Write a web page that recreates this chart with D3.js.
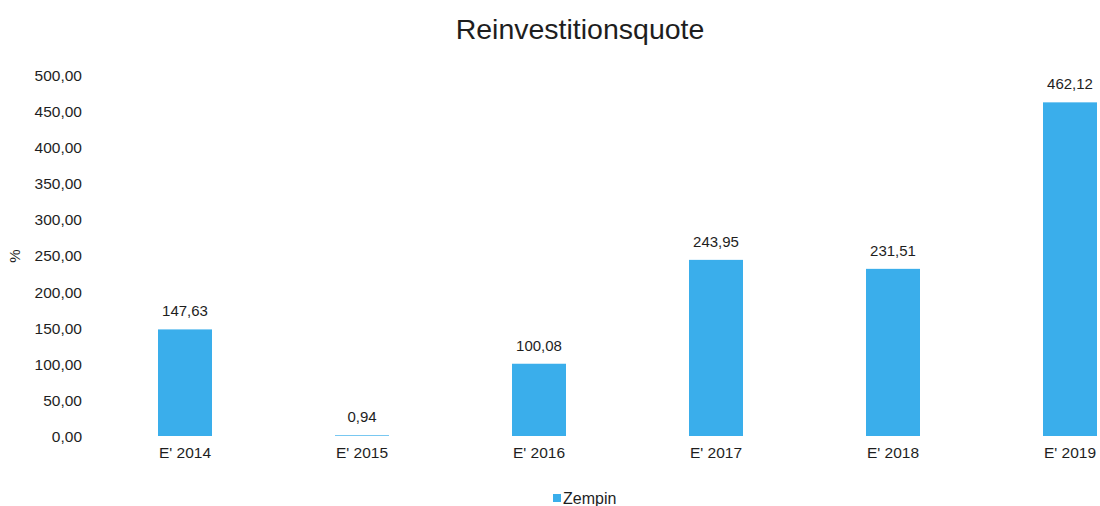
<!DOCTYPE html>
<html>
<head>
<meta charset="utf-8">
<script src="https://cdnjs.cloudflare.com/ajax/libs/d3/7.8.5/d3.min.js"></script>
<style>
    body { margin: 0; background: #fff; }
    svg text { font-family: "Liberation Sans", Arial, sans-serif; fill: #1e1e1e; }
</style>
</head>
<body>
<svg id="chart"></svg>
<script>

var categories = ["E' 2014", "E' 2015", "E' 2016", "E' 2017", "E' 2018", "E' 2019"];
var values = [147.63, 0.94, 100.08, 243.95, 231.51, 462.12];
var yTicks = [0, 50, 100, 150, 200, 250, 300, 350, 400, 450, 500];
var seriesName = "Zempin";

var svgWidth = 1100, svgHeight = 506;
var barColor = "#3aaeeb";

var svg = d3.select("#chart")
    .attr("width", svgWidth)
    .attr("height", svgHeight);

// plot runs off the right edge in the original
var xscale = d3.scaleBand()
    .domain(categories)
    .range([96.5, 1158.5])
    .paddingInner(0.695)
    .paddingOuter(0.3475);

var yscale = d3.scaleLinear()
    .domain([0, 500])
    .range([436, 75]);

var fmt = function (v) { return d3.format(".2f")(v).replace(".", ","); };

// y axis labels
var yAxis = d3.axisLeft(yscale)
    .tickValues(yTicks)
    .tickSize(0)
    .tickPadding(0)
    .tickFormat(fmt);

svg.append("g")
    .attr("transform", "translate(82,0)")
    .call(yAxis)
    .call(function (g) { g.select(".domain").remove(); })
    .selectAll("text")
    .style("font-size", "15.5px")
    .attr("dy", "0.35em");

// x axis labels
var xAxis = d3.axisBottom(xscale).tickSize(0).tickPadding(0);
svg.append("g")
    .attr("transform", "translate(0,447)")
    .call(xAxis)
    .call(function (g) { g.select(".domain").remove(); })
    .selectAll("text")
    .style("font-size", "15.5px")
    .attr("dy", "0.71em");

// bars
svg.selectAll("rect.bar")
    .data(values)
    .enter()
    .append("rect")
    .attr("class", "bar")
    .attr("x", function (d, i) { return xscale(categories[i]); })
    .attr("y", function (d) { return yscale(d); })
    .attr("width", xscale.bandwidth())
    .attr("height", function (d) { return yscale(0) - yscale(d); })
    .attr("fill", barColor);

// value labels
svg.selectAll("text.val")
    .data(values)
    .enter()
    .append("text")
    .attr("class", "val")
    .attr("x", function (d, i) { return xscale(categories[i]) + xscale.bandwidth() / 2; })
    .attr("y", function (d) { return yscale(d) - 13; })
    .attr("text-anchor", "middle")
    .style("font-size", "15px")
    .text(fmt);

// title
svg.append("text")
    .attr("x", 580)
    .attr("y", 39)
    .attr("text-anchor", "middle")
    .style("font-size", "28.5px")
    .text("Reinvestitionsquote");

// y axis title
svg.append("text")
    .attr("transform", "translate(20,256) rotate(-90)")
    .attr("text-anchor", "middle")
    .style("font-size", "15px")
    .text("%");

// legend
var legend = svg.append("g").attr("transform", "translate(553,494)");
legend.append("rect")
    .attr("width", 8)
    .attr("height", 8)
    .attr("fill", barColor);
legend.append("text")
    .attr("x", 10)
    .attr("y", 9.5)
    .style("font-size", "16px")
    .text(seriesName);

</script>
</body>
</html>
